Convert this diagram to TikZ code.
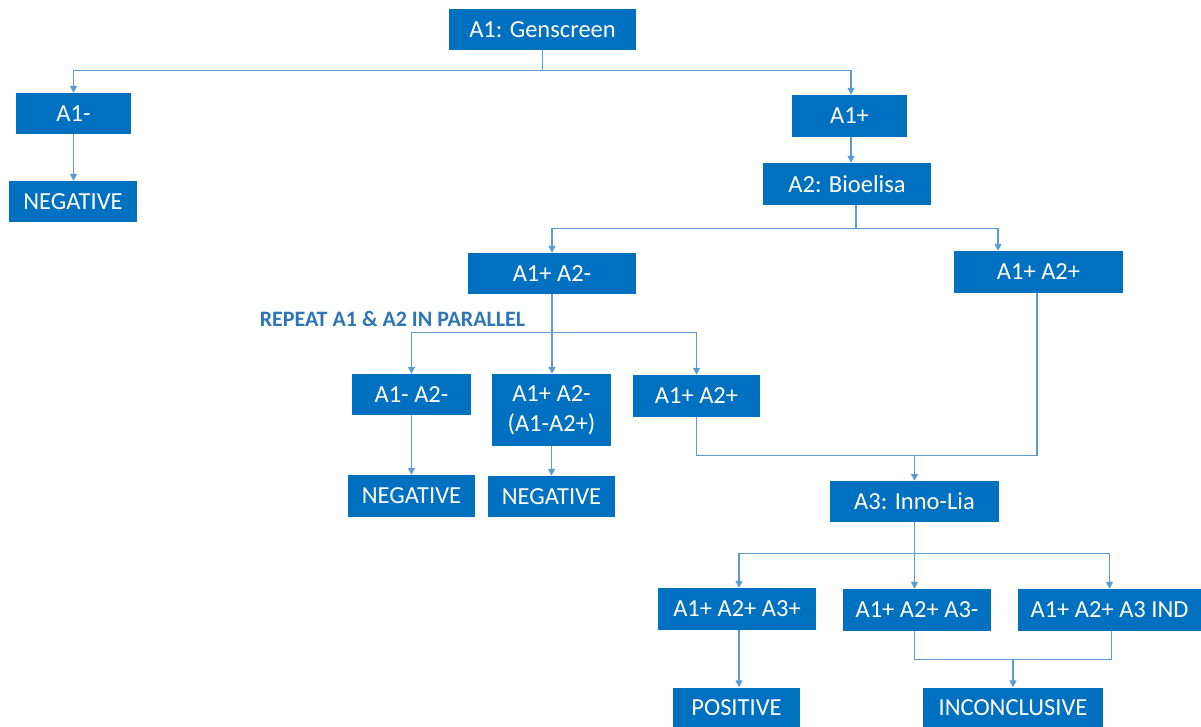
\documentclass[tikz,border=0pt]{standalone}
\usepackage{fontspec}
\setmainfont{Carlito}
\usepackage{tikz}
\usetikzlibrary{arrows.meta}
\definecolor{boxblue}{HTML}{0070C0}
\definecolor{lineblue}{HTML}{5B9BD5}
\definecolor{textblue}{HTML}{2E75B6}

\begin{document}
\begin{tikzpicture}[x=1pt,y=-1pt,
  blk/.style={fill=boxblue,text=white,minimum height=41pt,inner sep=2pt,align=center,font=\fontsize{24.5}{30}\selectfont},
  conn/.style={draw=lineblue,line width=1.3pt},
  arr/.style={conn,-{Triangle[width=7pt,length=7pt]}}]
\useasboundingbox (0,0) rectangle (1201,727);
\node[blk,minimum width=187pt] (gen) at (542.5,29.5) {A1: Genscreen};
\node[blk,minimum width=115pt] (a1neg) at (73.5,113.5) {A1-};
\node[blk,minimum width=128pt] (neg1) at (73,201.5) {NEGATIVE};
\node[blk,minimum width=115pt,minimum height=42pt] (a1pos) at (849.5,116) {A1+};
\node[blk,minimum width=168pt,minimum height=42pt] (a2) at (847,184) {A2: Bioelisa};
\node[blk,minimum width=168pt] (a1pa2n) at (552,273.5) {A1+ A2-};
\node[blk,minimum width=169pt,minimum height=42pt] (a1pa2p) at (1038.5,272) {A1+ A2+};
\node[font=\bfseries\fontsize{22}{26}\selectfont,text=textblue] (rep) at (392.5,318.5) {REPEAT A1 \& A2 IN PARALLEL};
\node[blk,minimum width=119pt] (r1) at (411.5,394.5) {A1- A2-};
\node[blk,minimum width=119pt,minimum height=72pt] (r2) at (551.5,410) {A1+ A2-\\(A1-A2+)};
\node[blk,minimum width=127pt,minimum height=42pt] (r3) at (696.5,396) {A1+ A2+};
\node[blk,minimum width=127pt,minimum height=42pt] (neg2) at (411.5,496) {NEGATIVE};
\node[blk,minimum width=127pt] (neg3) at (551.5,496.5) {NEGATIVE};
\node[blk,minimum width=169pt] (a3) at (914.5,501.5) {A3: Inno-Lia};
\node[blk,minimum width=158pt,minimum height=42pt] (b1) at (737,609) {A1+ A2+ A3+};
\node[blk,minimum width=148pt,minimum height=42pt] (b2) at (917,610) {A1+ A2+ A3-};
\node[blk,minimum width=183pt,minimum height=42pt] (b3) at (1109.5,610) {A1+ A2+ A3 IND};
\node[blk,minimum width=127pt] (pos) at (736.5,708) {POSITIVE};
\node[blk,minimum width=180pt] (inc) at (1013,708) {INCONCLUSIVE};
\draw[conn] (gen.south) -- ++(0,20) coordinate (s1);
\draw[arr] (s1) -| (a1neg.north);
\draw[arr] (s1) -| ([xshift=1.5pt]a1pos.north);
\draw[arr] (a1neg.south) -- (a1neg.south |- neg1.north);
\draw[arr] ([xshift=1.5pt]a1pos.south) -- ([xshift=1.5pt]a1pos.south |- a2.north);
\draw[conn] ([xshift=9pt]a2.south) -- ++(0,23) coordinate (s2);
\draw[arr] (s2) -| (a1pa2n.north);
\draw[arr] (s2) -| ([xshift=-40.5pt]a1pa2p.north);
\draw[conn] (a1pa2n.south) -- ++(0,38) coordinate (s3);
\draw[arr] (s3) -| (r1.north);
\draw[arr] (s3) -- (s3 |- r2.north);
\draw[arr] (s3) -| (r3.north);
\draw[arr] (r1.south) -- (neg2.north);
\draw[arr] (r2.south) -- (neg3.north);
\draw[conn] (r3.south) -- ++(0,38) coordinate (s4) -| ([xshift=-1.5pt]a1pa2p.south);
\draw[arr] (s4 -| a3.north) -- (a3.north);
\draw[conn] (a3.south) -- ++(0,31) coordinate (s5);
\draw[arr] (s5) -| ([xshift=2pt]b1.north);
\draw[arr] (s5) -- (s5 |- b2.north);
\draw[arr] (s5) -| (b3.north);
\draw[arr] ([xshift=2pt]b1.south) -- ([xshift=2pt]b1.south |- pos.north);
\draw[conn] (b2.south -| s5) -- ++(0,28) coordinate (s6) -| ([xshift=2pt]b3.south);
\draw[arr] (s6 -| inc.north) -- (inc.north);
\end{tikzpicture}
\end{document}
